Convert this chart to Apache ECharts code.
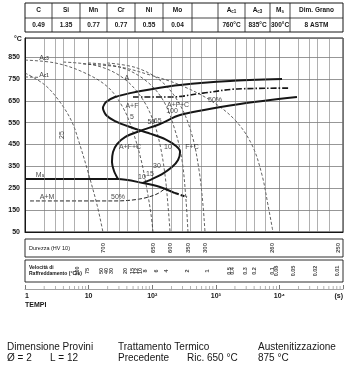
<!DOCTYPE html>
<html>
<head>
<meta charset="utf-8">
<script src="https://cdn.jsdelivr.net/npm/echarts@6/dist/echarts.min.js"></script>
<style>
html,body{margin:0;padding:0;background:#fff;}
#chart{width:352px;height:378px;}
</style>
</head>
<body>
<div id="chart"></div>
<script>
// composizione chimica / punti critici
const tableHead = ['C', 'Si', 'Mn', 'Cr', 'Ni', 'Mo', '', 'A{s|c1}', 'A{s|c3}', 'M{s|s}', 'Dim. Grano'];
const tableVals = ['0.49', '1.35', '0.77', '0.77', '0.55', '0.04', '', '760°C', '835°C', '300°C', '8 ASTM'];

// curve di raffreddamento [tempo s, °C]
const cool700 = [[1, 777], [2.06, 722], [3.55, 644], [5.48, 553], [7.3, 448], [9.8, 324], [13.6, 173], [16.8, 50]];
const cool650 = [[1, 836], [2.96, 823], [8.2, 781], [20, 713], [35, 617], [50, 507], [67, 379], [83, 242], [96, 128], [103, 50]];
const cool600 = [[4, 827], [14, 809], [35, 754], [67, 667], [103, 562], [133, 448], [159, 311], [177, 173], [191, 50]];
const cool350 = [[9.8, 823], [31, 804], [77, 745], [148, 653], [228, 516], [294, 379], [340, 196], [365, 50]];
const cool300 = [[19.5, 823], [57.7, 800], [143, 736], [274, 631], [423, 493], [545, 333], [629, 173], [676, 50]];
const cool260 = [[8.2, 818], [31, 804], [92, 768], [274, 722], [811, 653], [2005, 562], [3707, 448], [5325, 311], [6620, 173], [7930, 50]];

// curve di trasformazione
const ferrStart = [[11000, 749], [1672, 740], [274, 722], [92, 702], [44.8, 685], [26, 667], [18.8, 644], [16.8, 617], [18.8, 585],
  [26, 557], [44.8, 530], [92, 500], [159, 475], [237, 443], [274, 416], [255, 379], [205, 347], [143, 315], [99, 292], [71.6, 274]];
const ferrEnd = [[18900, 667], [2404, 635], [274, 585], [133, 544], [64.3, 512], [37.4, 484], [28, 452], [24.2, 416], [23.3, 370], [25.1, 329], [29, 292]];
const perl50 = [[49.9, 667], [191, 667], [629, 685], [2153, 704], [14690, 708]];
const msLine = [[1, 292], [29, 292], [71.6, 274], [133, 256], [228, 228]];
const msTail = [[228, 228], [352, 210]];
const mart50 = [[1.2, 192], [26, 192], [64, 201], [119, 224], [171, 256]];
const ac1Line = [[1, 759], [1.7, 757]];

// scritte nel diagramma [tempo, °C, testo]
const plotNotes = [
  [1.99, 845, 'A{s|c3}'], [1.99, 768, 'A{s|c1}'], [40, 754, 'A'], [48, 626, 'A+F'], [48, 576, '5'],
  [97, 553, '50'], [122, 557, '65'], [255, 630, 'A+F+C'], [205, 603, '100'], [971, 653, '50%'],
  [44.8, 439, 'A+F+C'], [177, 439, '10'], [423, 439, 'F+C'], [119, 352, '30'], [69, 301, '10'],
  [92, 315, '15'], [1.72, 311, 'M{s|s}'], [2.22, 210, 'A+M'], [29, 210, '50%']
];
const rotNotes = [[3.8, 493, '25']];

// durezza HV10 e velocità di raffreddamento
const hvLabels = ['700', '650', '600', '350', '300', '260', '250'];
const hvTimes = [16.8, 103, 191, 365, 676, 7650, 83400];
const speedLabels = ['100', '75', '50', '40', '30', '20', '15', '12', '10', '8', '6', '4', '2', '1', '0.5', '0.4', '0.3', '0.2', '0.1', '0.08', '0.05', '0.02', '0.01'];
const speedTimes = [6.57, 9.44, 15.7, 18.8, 22.5, 38.7, 48.1, 55.6, 64.3, 77.1, 115, 165, 365, 727, 1614, 1862, 2878, 4130, 7650, 9160, 16370, 36300, 80500];

const tempTicks = { min: 50, max: 937, step: 100 };
const gridMinor = [2, 3, 4, 6, 20, 30, 40, 60, 200, 300, 400, 600, 2000, 3000, 4000, 6000, 20000, 30000, 40000, 60000];
const rulerMinor = [2, 3, 4, 5, 6, 7, 8, 9, 20, 30, 40, 50, 60, 70, 80, 90, 200, 300, 400, 500, 600, 700, 800, 900,
  2000, 3000, 4000, 5000, 6000, 7000, 8000, 9000, 20000, 30000, 40000, 50000, 60000, 70000, 80000, 90000];
const rulerText = { 1: '1', 10: '10', 100: '10²', 1000: '10³', 10000: '10⁴', 100000: '(s)' };

const FONT = 'Liberation Sans, Arial, sans-serif';
const INK = '#161616';

const chart = echarts.init(document.getElementById('chart'), null, { renderer: 'canvas' });

function curve(data, width, type, color, smooth) {
  return {
    type: 'line', xAxisIndex: 0, yAxisIndex: 0, data: data, symbol: 'none', showSymbol: false,
    smooth: smooth === undefined ? 0.35 : smooth, silent: true, z: 3,
    lineStyle: { width: width, type: type, color: color }
  };
}

// tabella in alto
const colEdges = [25, 52, 80, 107, 135, 163, 192, 218, 245, 270, 290, 343];
const graphics = [];
graphics.push({ type: 'rect', shape: { x: 25, y: 3, width: 318, height: 29 }, style: { fill: 'none', stroke: INK, lineWidth: 1 } });
graphics.push({ type: 'line', shape: { x1: 25, y1: 18, x2: 343, y2: 18 }, style: { stroke: INK, lineWidth: 0.8 } });
for (let i = 1; i < colEdges.length - 1; i++) {
  graphics.push({ type: 'line', shape: { x1: colEdges[i], y1: 3, x2: colEdges[i], y2: 32 }, style: { stroke: INK, lineWidth: 0.8 } });
}
const subRich = { s: { fontSize: 4.5, fontWeight: 'bold', fontFamily: FONT, verticalAlign: 'bottom' } };
function txt(x, y, text, size, weight, align) {
  return {
    type: 'text', x: x, y: y, silent: true,
    style: {
      text: text, fontSize: size, fontWeight: weight || 'normal', fontFamily: FONT, fill: INK,
      textAlign: align || 'left', textVerticalAlign: 'middle', align: align || 'left', verticalAlign: 'middle', rich: subRich
    }
  };
}
for (let i = 0; i < tableHead.length; i++) {
  const cx = (colEdges[i] + colEdges[i + 1]) / 2;
  if (tableHead[i]) graphics.push(txt(cx, 10.5, tableHead[i], 6.5, 'bold', 'center'));
  if (tableVals[i]) graphics.push(txt(cx, 25, tableVals[i], 6.5, 'bold', 'center'));
}
graphics.push(txt(14, 39, '°C', 7, 'bold', 'left'));
graphics.push(txt(29, 248, 'Durezza (HV 10)', 5.5, 'normal', 'left'));
graphics.push(txt(29, 268, 'Velocità di', 5, 'bold', 'left'));
graphics.push(txt(29, 274, 'Raffreddamento (°C/s)', 5, 'bold', 'left'));
graphics.push(txt(25, 305, 'TEMPI', 7, 'bold', 'left'));
graphics.push(txt(7, 347, 'Dimensione Provini', 10));
graphics.push(txt(7, 358, 'Ø = 2', 10));
graphics.push(txt(50, 358, 'L = 12', 10));
graphics.push(txt(118, 347, 'Trattamento Termico', 10));
graphics.push(txt(118, 358, 'Precedente', 10));
graphics.push(txt(187, 358, 'Ric. 650 °C', 10));
graphics.push(txt(258, 347, 'Austenitizzazione', 10));
graphics.push(txt(258, 358, '875 °C', 10));

const noteLabel = {
  show: true, position: 'inside', fontSize: 7, color: INK, fontFamily: FONT,
  formatter: p => p.name, rich: subRich
};

const option = {
  animation: false,
  backgroundColor: '#fff',
  grid: [
    { left: 25, top: 38, width: 318, height: 194, show: true, borderColor: INK, borderWidth: 1 },
    { left: 25, top: 239, width: 318, height: 18, show: true, borderColor: INK, borderWidth: 0.9 },
    { left: 25, top: 260, width: 318, height: 22, show: true, borderColor: INK, borderWidth: 0.9 },
    { left: 25, top: 286, width: 318, height: 3 }
  ],
  xAxis: [
    { type: 'log', gridIndex: 0, min: 1, max: 100000, axisLabel: { show: false }, axisTick: { show: false },
      axisLine: { show: true, lineStyle: { color: INK } }, splitLine: { show: true, lineStyle: { color: '#6a6a6a', width: 0.7 } } },
    { type: 'log', gridIndex: 1, min: 1, max: 100000, show: false },
    { type: 'log', gridIndex: 2, min: 1, max: 100000, show: false },
    { type: 'log', gridIndex: 3, min: 1, max: 100000, position: 'bottom',
      axisLine: { show: true, lineStyle: { color: '#8a8a8a', width: 0.8 } },
      axisTick: { show: true, inside: true, length: 4, lineStyle: { color: '#777' } },
      splitLine: { show: false },
      axisLabel: { show: true, fontSize: 7, fontWeight: 'bold', color: INK, fontFamily: FONT, margin: 4,
        alignMinLabel: 'left', alignMaxLabel: 'right',
        formatter: v => rulerText[Math.round(v)] || '' } }
  ],
  yAxis: [
    { type: 'value', gridIndex: 0, min: tempTicks.min, max: tempTicks.max, interval: tempTicks.step,
      axisLine: { show: true, lineStyle: { color: INK } }, axisTick: { show: false },
      axisLabel: { fontSize: 7, fontWeight: 'bold', color: INK, fontFamily: FONT, margin: 5, showMaxLabel: false },
      splitLine: { show: true, lineStyle: { color: '#6a6a6a', width: 0.7 } } },
    { type: 'value', gridIndex: 1, min: 0, max: 1, show: false },
    { type: 'value', gridIndex: 2, min: 0, max: 1, show: false },
    { type: 'value', gridIndex: 3, min: 0, max: 1, show: false }
  ],
  graphic: { elements: graphics },
  series: [
    {
      type: 'line', xAxisIndex: 0, yAxisIndex: 0, data: [], silent: true,
      markLine: { silent: true, symbol: 'none', label: { show: false },
        lineStyle: { color: '#7a7a7a', width: 0.6, type: 'solid' },
        data: gridMinor.map(v => ({ xAxis: v })) }
    },
    curve(cool700, 0.8, [3, 2], '#3a3a3a'),
    curve(cool650, 0.8, [3, 2], '#3a3a3a'),
    curve(cool600, 0.8, [3, 2], '#3a3a3a'),
    curve(cool350, 0.8, [3, 2], '#3a3a3a'),
    curve(cool300, 0.8, [3, 2], '#3a3a3a'),
    curve(cool260, 0.8, [3, 2], '#3a3a3a'),
    curve(ac1Line, 0.8, [3, 2], '#3a3a3a', false),
    curve(ferrStart, 2, 'solid', INK, 0.25),
    curve(ferrEnd, 2, 'solid', INK, 0.3),
    curve(perl50, 1.6, [6, 2, 1.5, 2], INK),
    curve(msLine, 2, 'solid', INK, 0.3),
    curve(msTail, 2, [4, 2], INK, false),
    curve(mart50, 1, [4, 2], '#222'),
    {
      type: 'scatter', xAxisIndex: 0, yAxisIndex: 0, symbolSize: 0, silent: true, z: 5,
      data: plotNotes.map(n => ({ name: n[2], value: [n[0], n[1]] })),
      label: noteLabel
    },
    {
      type: 'scatter', xAxisIndex: 0, yAxisIndex: 0, symbolSize: 0, silent: true, z: 5,
      data: rotNotes.map(n => ({ name: n[2], value: [n[0], n[1]] })),
      label: Object.assign({}, noteLabel, { rotate: 90 })
    },
    {
      type: 'scatter', xAxisIndex: 1, yAxisIndex: 1, symbolSize: 0, silent: true,
      data: hvTimes.map((t, i) => ({ name: hvLabels[i], value: [t, 0.5] })),
      label: { show: true, position: 'inside', rotate: 90, fontSize: 6, fontWeight: 'bold', color: INK, fontFamily: FONT, formatter: p => p.name }
    },
    {
      type: 'scatter', xAxisIndex: 2, yAxisIndex: 2, symbolSize: 0, silent: true,
      data: speedTimes.map((t, i) => ({ name: speedLabels[i], value: [t, 0.5] })),
      label: { show: true, position: 'inside', rotate: 90, fontSize: 5.5, fontWeight: 'bold', color: INK, fontFamily: FONT, formatter: p => p.name }
    },
    {
      type: 'scatter', xAxisIndex: 3, yAxisIndex: 3, symbol: 'rect', symbolSize: [0.7, 3], silent: true,
      itemStyle: { color: '#777' },
      data: rulerMinor.map(v => [v, 0.5])
    }
  ]
};

chart.setOption(option);
</script>
</body>
</html>
